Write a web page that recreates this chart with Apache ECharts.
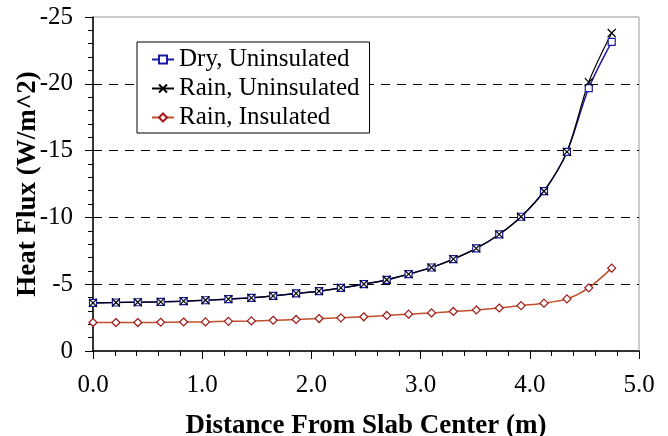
<!DOCTYPE html>
<html>
<head>
<meta charset="utf-8">
<script src="https://cdn.jsdelivr.net/npm/echarts@6/dist/echarts.min.js"></script>
<style>html,body{margin:0;padding:0;background:#fff}#c{width:668px;height:436px}</style>
</head>
<body>
<div id="c"></div>
<script>
const distance = [0, 0.21, 0.41, 0.62, 0.83, 1.03, 1.24, 1.45, 1.65, 1.86, 2.07, 2.27, 2.48, 2.69, 2.89, 3.10, 3.30, 3.51, 3.72, 3.92, 4.13, 4.34, 4.54, 4.75];
const dryUninsulated = [-3.60, -3.63, -3.65, -3.68, -3.73, -3.80, -3.88, -3.98, -4.13, -4.31, -4.48, -4.72, -5.00, -5.33, -5.75, -6.25, -6.88, -7.68, -8.73, -10.05, -11.96, -14.90, -19.68, -23.14];
const rainUninsulated = [-3.60, -3.63, -3.65, -3.68, -3.73, -3.80, -3.88, -3.98, -4.13, -4.31, -4.48, -4.72, -5.00, -5.33, -5.75, -6.25, -6.88, -7.68, -8.73, -10.05, -11.96, -14.90, -20.13, -23.80];
const rainInsulated = [-2.13, -2.13, -2.13, -2.15, -2.17, -2.18, -2.22, -2.25, -2.30, -2.36, -2.43, -2.48, -2.56, -2.66, -2.76, -2.85, -2.96, -3.07, -3.22, -3.40, -3.58, -3.90, -4.73, -6.20];
const seriesNames = ['Dry, Uninsulated', 'Rain, Uninsulated', 'Rain, Insulated'];
const xTitle = 'Distance From Slab Center (m)';
const yTitle = 'Heat Flux (W/m^2)';

const pair = (ys) => distance.map((x, i) => [x, ys[i]]);
const serif = '"Liberation Serif", "DejaVu Serif", serif';

const chart = echarts.init(document.getElementById('c'));
chart.setOption({
  animation: false,
  backgroundColor: '#fff',
  textStyle: { fontFamily: serif },
  grid: { left: 93, right: 29, top: 17, bottom: 85, outerBoundsMode: 'none', containLabel: false, show: true, borderColor: '#999', borderWidth: 1, backgroundColor: 'transparent' },
  legend: {
    orient: 'vertical', left: 137, top: 42,
    padding: [5, 10, 3, 14], itemGap: 4, itemWidth: 22, itemHeight: 10,
    borderColor: '#000', borderWidth: 1, backgroundColor: '#fff',
    textStyle: { fontFamily: serif, fontSize: 25, color: '#000' },
    data: seriesNames
  },
  xAxis: {
    type: 'value', min: 0, max: 5, interval: 1,
    name: xTitle, nameLocation: 'middle', nameGap: 62, nameMoveOverlap: false,
    nameTextStyle: { fontFamily: serif, fontSize: 27, fontWeight: 'bold', color: '#000' },
    axisLine: { lineStyle: { color: '#000', width: 1.5 } },
    axisTick: { show: true, length: 8, lineStyle: { color: '#000' } },
    minorTick: { show: true, splitNumber: 5, length: 5, lineStyle: { color: '#000' } },
    axisLabel: { fontFamily: serif, fontSize: 25, color: '#000', margin: 22, formatter: v => v.toFixed(1) },
    splitLine: { show: false }
  },
  yAxis: {
    type: 'value', min: -25, max: 0, interval: 5, inverse: true,
    name: yTitle, nameLocation: 'middle', nameGap: 51, nameMoveOverlap: false,
    nameTextStyle: { fontFamily: serif, fontSize: 27, fontWeight: 'bold', color: '#000' },
    axisLine: { show: true, lineStyle: { color: '#000', width: 1.5 } },
    axisTick: { show: true, length: 8, lineStyle: { color: '#000' } },
    minorTick: { show: true, splitNumber: 5, length: 5, lineStyle: { color: '#000' } },
    axisLabel: { fontFamily: serif, fontSize: 25, color: '#000', margin: 20 },
    splitLine: { show: true, lineStyle: { color: ['rgba(0,0,0,0)', '#000', '#000', '#000', '#000', 'rgba(0,0,0,0)'], type: [9, 7], width: 1 } }
  },
  series: [
    {
      name: seriesNames[0], type: 'line', data: pair(dryUninsulated), smooth: 0.3,
      symbol: 'rect', symbolSize: 7,
      lineStyle: { color: '#1a1aa6', width: 1.5 },
      itemStyle: { color: '#fff', borderColor: '#1a1aa6', borderWidth: 1.2 }
    },
    {
      name: seriesNames[1], type: 'line', data: pair(rainUninsulated), smooth: 0.3,
      symbol: 'path://M0,0L10,10M10,0L0,10', symbolSize: 8,
      lineStyle: { color: '#000', width: 1.2 },
      itemStyle: { color: 'rgba(0,0,0,0)', borderColor: '#000', borderWidth: 1.2 }
    },
    {
      name: seriesNames[2], type: 'line', data: pair(rainInsulated), smooth: 0.3,
      symbol: 'diamond', symbolSize: 8,
      lineStyle: { color: '#c0502a', width: 1.5 },
      itemStyle: { color: '#fff', borderColor: '#a01818', borderWidth: 1.2 }
    }
  ]
});
</script>
</body>
</html>
